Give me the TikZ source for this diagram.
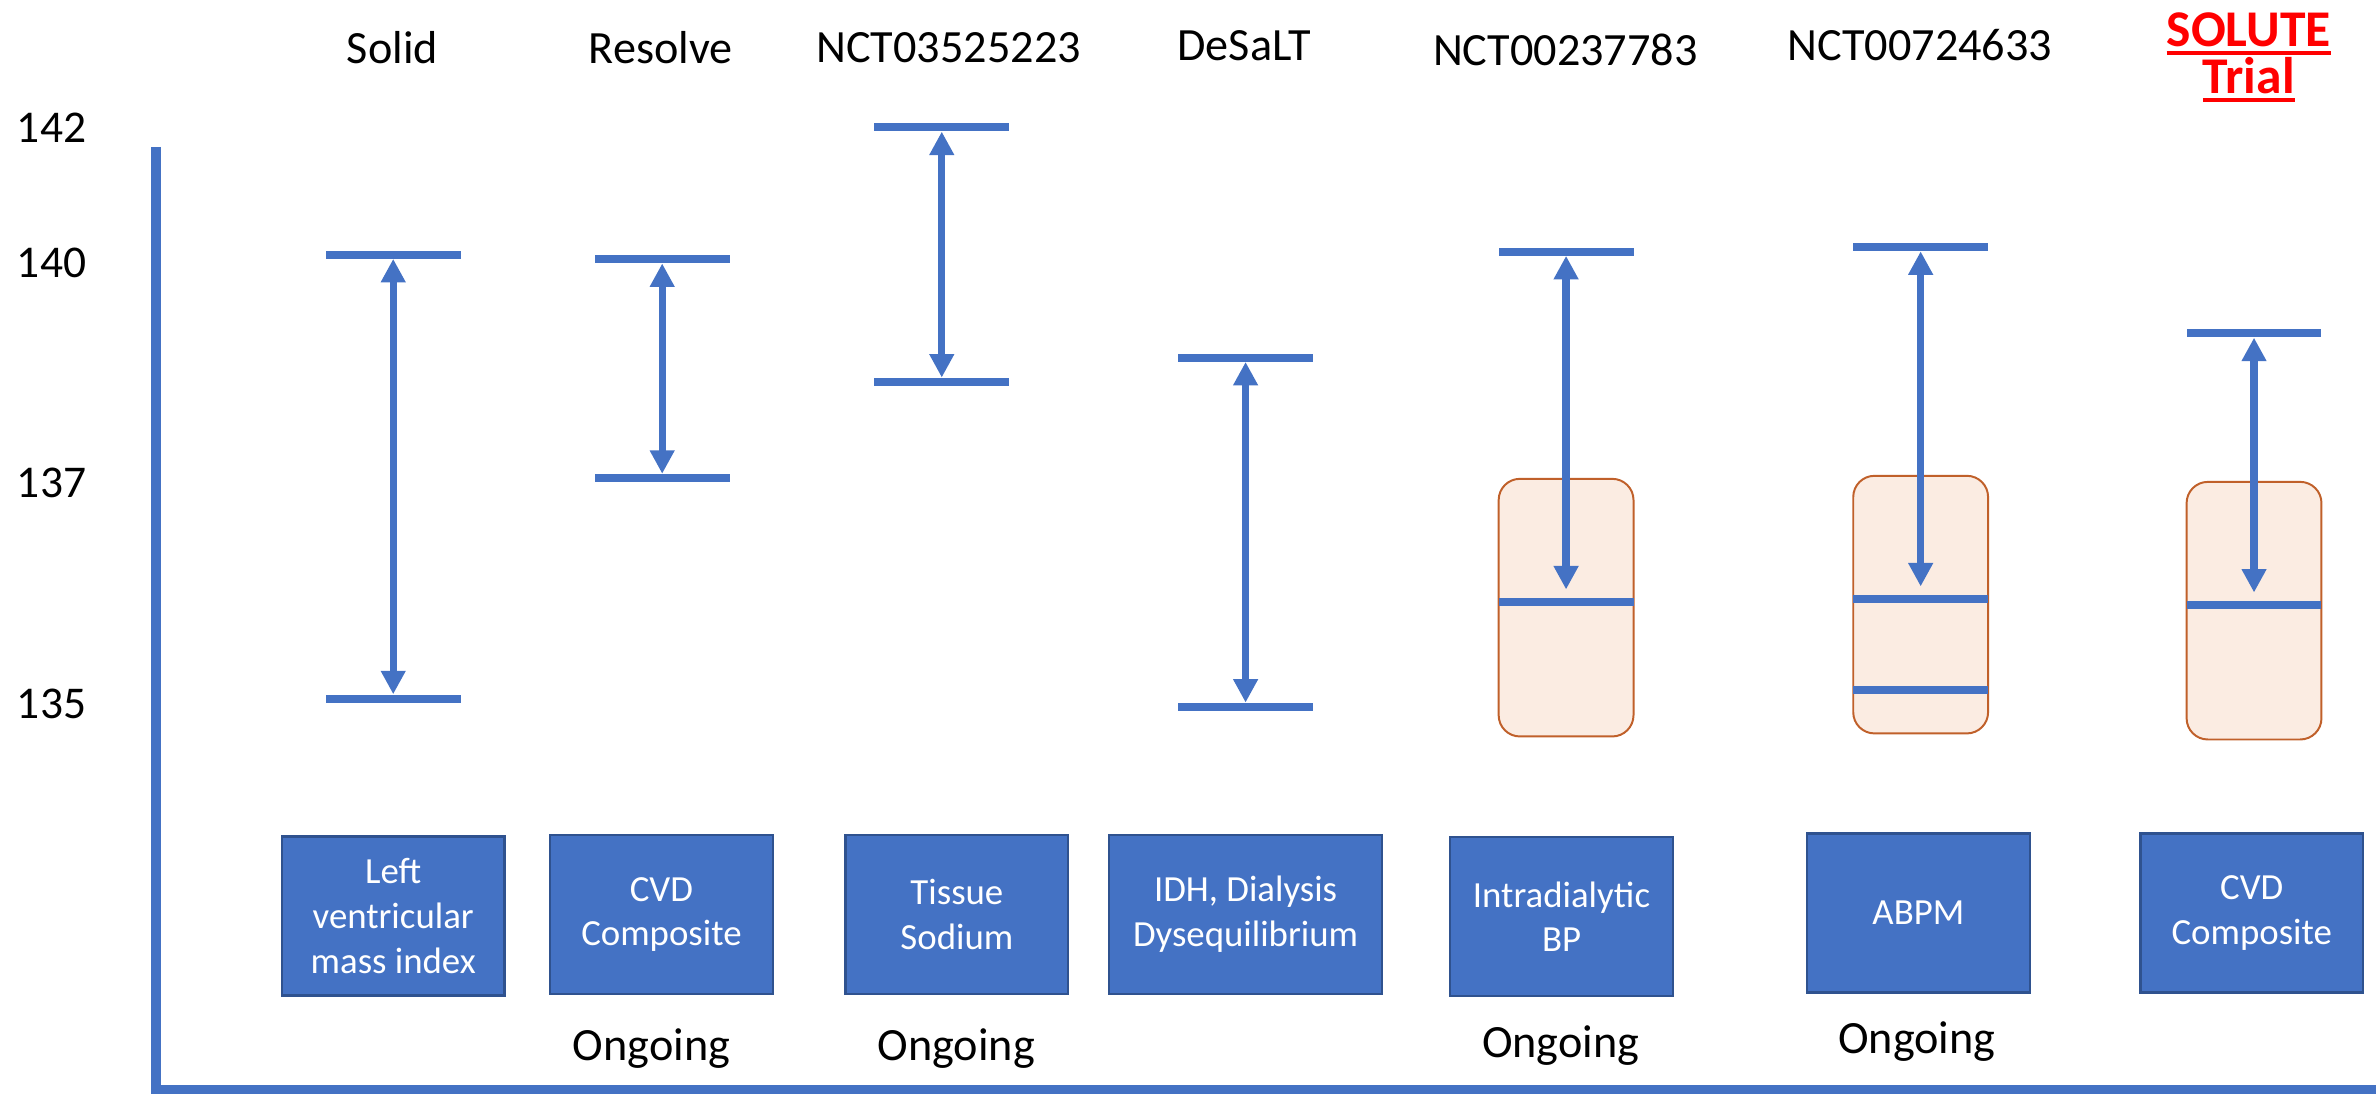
\documentclass[tikz,border=0pt]{standalone}
\usepackage{fontspec}
\setmainfont{Carlito}
\usepackage{tikz}
\usetikzlibrary{arrows.meta}

\definecolor{accentblue}{HTML}{4472C4}
\definecolor{boxedge}{HTML}{2F528F}
\definecolor{rangefill}{HTML}{FBECE2}
\definecolor{rangeedge}{HTML}{C0602A}

\newsavebox{\ulbox}
\newcommand{\redul}[1]{\sbox{\ulbox}{#1}\rlap{\vrule height -2.5pt depth 5pt width \wd\ulbox}\usebox{\ulbox}}

\begin{document}
\begin{tikzpicture}[x=1pt, y=-1pt,
  trial/.style={font=\fontsize{30.5}{36}\selectfont, anchor=base, inner sep=0pt},
  ticklbl/.style={font=\fontsize{30}{36}\selectfont, anchor=base west, inner sep=0pt},
  outcome/.style={draw=boxedge, line width=1.5, fill=accentblue, text=white, font=\fontsize{24.3}{29.5}\selectfont, align=center, minimum width=147, minimum height=105, inner sep=0pt},
  rangebar/.style={fill=accentblue, minimum width=89, minimum height=5.3, inner sep=0pt},
  rangebox/.style={draw=rangeedge, fill=rangefill, line width=1.3, rounded corners=14, minimum width=89, minimum height=170, inner sep=0pt},
  rangearrow/.style={accentblue, line width=4.8, {Triangle[length=15.5pt, width=15.5pt]}-{Triangle[length=15.5pt, width=15.5pt]}},
  axisline/.style={accentblue, line width=6.5}
]
\useasboundingbox (0,0) rectangle (1568,724);

% Axis
\draw[axisline] (103,97) -- (103,719) -- (1568,719);
\foreach \val/\ypos in {142/94, 140/183, 137/328, 135/474}
  \node[ticklbl] (tick\val) at (11,\ypos) {\val};

% Trial names
\node[trial] (solid)   at (259, 42)  {Solid};
\node[trial] (resolve) at (436, 42)  {Resolve};
\node[trial] (nct35)   at (626, 41)  {NCT03525223};
\node[trial] (desalt)  at (821, 40)  {DeSaLT};
\node[trial] (nct02)   at (1033, 43) {NCT00237783};
\node[trial] (nct07)   at (1267, 40) {NCT00724633};
\node[trial, text=red, font=\fontsize{34}{31}\selectfont\bfseries, align=center] (solute) at (1484, 62) {\redul{SOLUTE}\\\redul{Trial}};

% Target ranges (boxes)
\node[rangebox] (nct02box)  at (1033.5, 401) {};
\node[rangebox] (nct07box)  at (1267.5, 399) {};
\node[rangebox] (solutebox) at (1487.5, 403) {};

% Range limits
\node[rangebar] (solidhi)   at (259.5, 168)   {};
\node[rangebar] (solidlo)   at (259.5, 461)   {};
\node[rangebar] (resolvehi) at (437, 171)     {};
\node[rangebar] (resolvelo) at (437, 315.5)   {};
\node[rangebar] (nct35hi)   at (621.5, 84)    {};
\node[rangebar] (nct35lo)   at (621.5, 252)   {};
\node[rangebar] (desalthi)  at (822, 236)     {};
\node[rangebar] (desaltlo)  at (822, 466.5)   {};
\node[rangebar] (nct02hi)   at (1033.5, 166)  {};
\node[rangebar] (nct02mid)  at (1033.5, 397)  {};
\node[rangebar] (nct07hi)   at (1267.5, 163)  {};
\node[rangebar] (nct07mid)  at (1267.5, 395)  {};
\node[rangebar] (nct07lo)   at (1267.5, 455.5) {};
\node[rangebar] (solutehi)  at (1487.5, 220)  {};
\node[rangebar] (solutemid) at (1487.5, 399)  {};

\coordinate (nct02end)  at (1033.5, 389);
\coordinate (nct07end)  at (1267.5, 387);
\coordinate (soluteend) at (1487.5, 391);

% Range arrows
\draw[rangearrow] (solidhi) -- (solidlo);
\draw[rangearrow] (resolvehi) -- (resolvelo);
\draw[rangearrow] (nct35hi) -- (nct35lo);
\draw[rangearrow] (desalthi) -- (desaltlo);
\draw[rangearrow] (nct02hi) -- (nct02end);
\draw[rangearrow] (nct07hi) -- (nct07end);
\draw[rangearrow] (solutehi) -- (soluteend);

% Outcomes
\node[outcome] (solidout)   at (259.5, 604.5) {Left\\ventricular\\mass index};
\node[outcome] (resolveout) at (436.5, 603.5) {CVD\\Composite};
\node[outcome] (nct35out)   at (631.5, 603.5) {Tissue\\Sodium};
\node[outcome, minimum width=180] (desaltout) at (822, 603.5) {IDH, Dialysis\\Dysequilibrium};
\node[outcome] (nct02out)   at (1030.5, 605)  {Intradialytic\\BP};
\node[outcome] (nct07out)   at (1266, 602.5)  {ABPM};
\node[outcome] (soluteout)  at (1486, 602.5)  {CVD\\Composite};

% Status
\node[trial] (resolvestat) at (430, 700)  {Ongoing};
\node[trial] (nct35stat)   at (631, 700)  {Ongoing};
\node[trial] (nct02stat)   at (1030, 698) {Ongoing};
\node[trial] (nct07stat)   at (1265, 695) {Ongoing};
\end{tikzpicture}
\end{document}
